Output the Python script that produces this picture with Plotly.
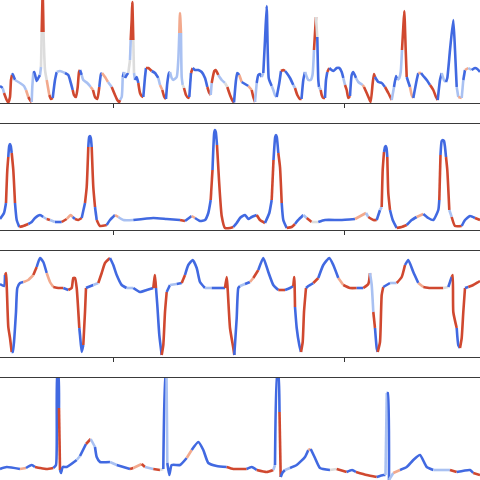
import plotly.graph_objects as go
from plotly.subplots import make_subplots

# attribution level per sample: -2 strong blue ... 0 neutral ... 2 strong red
PALETTE = {-2: "#4169e1", -1: "#a9c1f2", 0: "#dcdcdc", 1: "#f2a98d", 2: "#d0482f"}

# ---- lead 1 ----
p1_x = [0, 2.7, 4, 6.7, 8.3, 10, 11, 12, 12.7, 15, 20, 24, 26, 28.3, 30.7, 31.7, 32.3, 33.3, 34.3, 36.7,
        38.3, 40, 41, 41.7, 42.7, 43.5, 45, 46.7, 49.3, 51, 52.7, 55, 56.7, 60, 65, 68.3, 70, 72.7, 74, 76,
        77.7, 79, 80, 81.7, 83.3, 87.3, 90.7, 93, 95, 97.3, 99.3, 101, 102, 105, 108, 111.7, 115, 117.3, 119.3, 120,
        121.7, 122.7, 124, 125, 126.7, 128.3, 130, 130.7, 131.7, 132.3, 133.3, 134, 135, 136.7, 138.3, 140, 141.7, 143.3, 145, 146,
        148.3, 151.7, 155, 158.3, 160, 162.3, 164.3, 166, 167.3, 169, 170, 171.7, 173.3, 176.7, 178.3, 179.3, 180, 181, 181.7, 182.7,
        184, 186, 188.3, 189.3, 191, 192.7, 195, 198.3, 201.7, 205, 207.3, 209.3, 210.7, 211.7, 214.3, 215.7, 218.3, 221.7, 225, 227.3,
        230, 232.7, 234, 236, 237.3, 239.3, 241.7, 245, 248.3, 251.7, 253.3, 255, 256.7, 258.3, 260, 261.7, 263.3, 265, 266.7, 267.7,
        268.7, 270, 271.7, 273.3, 275, 276.7, 279.3, 281, 283.3, 285, 286.7, 290, 293.3, 295, 297.3, 300, 301.5, 303.3, 305, 308.3,
        310.7, 312.5, 314, 315.3, 316, 317.3, 318.3, 319, 320.7, 321.7, 323.3, 325, 326, 327.3, 329.3, 333.3, 336.7, 339.3, 341.7, 343.3,
        345, 346.7, 348.3, 350, 351.7, 353.3, 356, 358.3, 362.7, 364, 366.7, 369.3, 370.7, 372.7, 374, 375, 378.3, 381.7, 385, 388.3,
        391.7, 394, 396, 397.3, 399.3, 400.7, 402, 403.3, 404.3, 405.7, 406.7, 408.3, 410, 411.7, 413.3, 416.7, 418.3, 421, 423.3, 426.7,
        430, 433.3, 436, 437.7, 440, 441.7, 444, 446, 447.3, 450, 453.3, 455, 456.7, 458.3, 461.7, 463.3, 465, 468.3, 471.7, 475,
        477.3, 480]
p1_y = [17, 15, 10, 3, 0.5, 6, 23, 28, 29, 23, 20, 17, 13, 6, 2, 1, 16, 30, 31, 22,
        25, 28, 36, 71, 110, 71, 33, 23, 8, 4, 5, 23, 31, 32, 30, 28, 23, 13, 8, 6,
        16, 31, 33, 28, 23, 20, 16, 13, 6, 4, 16, 29, 30, 26, 21, 16, 8, 3, 1, 3,
        6, 26, 31, 25, 28, 30, 43, 63, 83, 101, 63, 30, 23, 26, 20, 10, 7, 6, 26, 35,
        35, 32, 30, 25, 18, 13, 6, 4, 20, 30, 31, 25, 23, 26, 43, 70, 90, 70, 26, 18,
        15, 8, 5, 6, 30, 35, 33, 33, 31, 25, 16, 10, 8, 20, 32, 33, 28, 23, 20, 16,
        8, 2, 0.5, 23, 30, 28, 21, 19, 17, 13, 6, 1, 20, 28, 29, 26, 30, 63, 97, 53,
        25, 21, 17, 13, 8, 6, 20, 32, 33, 32, 30, 25, 18, 15, 8, 4, 4, 23, 31, 23,
        23, 28, 53, 75, 86, 66, 23, 16, 13, 8, 5, 5, 23, 31, 35, 32, 35, 35, 31, 25,
        18, 13, 5, 7, 28, 31, 25, 21, 18, 16, 10, 4, 1, 20, 29, 26, 21, 20, 16, 10,
        3, 16, 27, 23, 25, 31, 53, 76, 92, 53, 26, 21, 16, 8, 5, 23, 30, 30, 27, 23,
        18, 13, 6, 3, 23, 30, 23, 21, 25, 53, 83, 53, 16, 6, 5, 23, 33, 35, 33, 35,
        34, 31]
p1_lvl = [-2, -1, 2, 2, 2, 2, 2, -2, -2, -1, -1, -1, 1, 2, 2, -1, -1, -2, -2, -2,
          -2, -1, 0, 2, 2, 0, 0, 1, 2, 2, -2, -2, -1, -1, -2, -2, -2, 2, 2, 2,
          2, 2, -2, -1, -1, -1, 1, 2, 2, 2, -2, -2, 1, 1, -1, 2, 2, 2, 2, -1,
          -1, -2, -1, -2, -2, 0, -1, 2, 2, 2, 0, -1, -2, -2, 2, 2, 2, -2, -2, 2,
          2, -2, -2, -1, 1, 2, 2, -2, -2, -2, -1, -1, -1, -1, -1, 1, 1, -1, -1, 0,
          2, 2, 2, -2, 2, -2, -2, -2, -2, -2, 2, 2, -1, 2, 2, 2, -1, -1, 0, 2,
          2, 2, -2, -2, -2, 1, -2, -2, 1, 2, 2, -1, -2, -2, -2, -1, -2, -2, -2, -2,
          -2, -2, -1, -1, -1, -2, -2, 2, 2, -2, -2, -2, -1, 2, 2, 2, -2, -2, -1, -1,
          -1, -1, 2, 2, 0, -2, -2, -1, 2, 2, 2, -2, -2, 2, -2, -2, -2, -2, -2, -1,
          2, 2, 2, -2, -2, -2, -1, -1, 1, 2, 2, 2, 2, 2, 2, -2, -2, -2, 2, 2,
          -1, -2, -2, -1, -1, -1, 2, 2, 2, 2, -2, -2, 1, 1, -2, -2, 1, -2, -2, -2,
          2, 2, 2, -2, -2, -1, -1, -2, -2, -2, -2, -2, -1, 1, -1, -2, 1, -1, -2, -2,
          -2, -2]

# ---- lead 2 ----
p2_x = [0, 4, 6, 7.3, 8.3, 9.2, 10, 10.8, 11.7, 13.3, 15, 16.7, 19.3, 23.3, 28.3, 31.7, 35, 40, 43.3, 46.7, 50, 55,
        61.7, 66.7, 70.7, 72.7, 75, 78.3, 81.7, 85, 86.7, 88.3, 89.2, 90, 90.8, 91.7, 93.3, 95, 96.7, 100, 106.7, 110, 115, 118.3,
        123.3, 133.3, 153.3, 166.7, 180, 185, 191.7, 195, 200, 205, 208.3, 210.7, 212.5, 214.2, 215, 215.8, 217, 219, 221.7, 225, 230,
        233.3, 236.7, 240, 245, 248.3, 251.7, 256.7, 260, 265, 269.3, 271.7, 273.5, 275.2, 276, 276.8, 278.3, 280, 281.7, 283.3, 286.7, 291.7, 295,
        298.3, 303.3, 306.7, 311.7, 318.3, 325, 340, 355, 366, 368.3, 373.3, 376.7, 380, 381.7, 382.7, 384, 385, 385.7, 386.5, 387.3, 388.3, 390,
        392.7, 396.7, 401.7, 406.7, 411.7, 416.7, 423.3, 428.3, 433.3, 438.3, 439.3, 440.5, 441.7, 442.8, 444, 445, 446, 447.3, 449.3, 451.7, 455, 461.7,
        465, 470, 475, 480]
p2_y = [11, 17, 27, 60, 73, 84, 86, 84, 77, 60, 27, 10, 3, 4, 6, 8, 12, 15, 13, 11, 10, 8,
        8, 11, 15, 13, 11, 10, 12, 27, 43, 83, 93, 94, 92, 83, 43, 23, 10, 4, 5, 10, 15, 13,
        10, 10, 12, 11, 10, 9, 14, 12, 9, 10, 17, 30, 60, 97, 100, 98, 85, 50, 14, 2, 2,
        3, 7, 12, 15, 11, 13, 15, 10, 7, 17, 30, 70, 93, 95, 93, 77, 63, 27, 10, 2, 3, 6,
        10, 15, 12, 8, 8, 10, 10, 11, 17, 13, 10, 10, 20, 23, 60, 78, 83, 84, 82, 73, 37, 20,
        10, 2, 3, 5, 10, 13, 16, 12, 10, 20, 30, 75, 89, 90, 89, 83, 73, 60, 20, 13, 4, 4,
        10, 14, 12, 10]
p2_lvl = [-2, -2, 2, 2, -2, -2, -2, -2, 2, 2, -2, -2, 2, 2, -2, -2, -2, -2, -1, 2, -1, -2,
          2, 1, 1, -2, 2, 2, -2, 2, 2, -2, -2, -2, -2, 2, 2, -2, 2, 2, -2, -2, 1, -1,
          -1, -2, -2, -2, 2, -2, 1, -2, -2, -2, -2, 2, -2, -2, -2, -2, 2, 2, 2, 2, 2,
          -2, -2, -2, -2, -2, -2, 2, 2, -2, -2, 2, -2, -2, -2, -2, 2, 2, -2, -2, 2, 2, -2,
          -2, -1, 2, 0, -2, -2, -2, 1, -1, 2, 2, -2, -1, 2, 2, -2, -2, -2, -2, 2, 2, -2,
          -2, 2, 2, -2, -2, 1, -2, -2, -2, -2, 2, -2, -2, -2, -2, -2, 2, 2, -1, 2, 2, -2,
          -2, -2, 2, 2]

# ---- lead 3 ----
p3_x = [0, 4, 5, 6, 6.7, 8.3, 10, 11.7, 12.7, 14, 16, 17.3, 20, 23.3, 28.3, 33.3, 36.7, 40, 43.3, 46.7,
        50, 53.3, 58.3, 63.3, 68.3, 71.7, 73.3, 75, 76.7, 79.3, 80, 81.7, 83.3, 85, 86, 88.3, 93.3, 98.3, 101.7, 105,
        110, 113.3, 116.7, 121.7, 126.7, 133.3, 140, 146.7, 153.3, 155, 156, 157.3, 159.3, 161.7, 163.3, 165, 166.7, 170, 176.7, 181.7,
        185, 188.3, 192.7, 196.7, 200, 205, 211.7, 220, 225, 226.7, 230, 233.3, 234.3, 236.7, 238.3, 240, 245, 250, 253.3, 258.3,
        263.3, 268.3, 273.3, 278.3, 285, 290, 293.3, 294.3, 295, 296.7, 299.3, 301, 302.7, 304, 306, 308.3, 313.3, 318.3, 323.3, 329.3,
        333.3, 338.3, 343.3, 350, 356.7, 363.3, 368.3, 370, 371.7, 373.3, 375, 376.7, 377.7, 380, 381.7, 383.3, 390, 396.7, 401.7, 405,
        408.3, 413.3, 418.3, 423.3, 430, 436.7, 443.3, 448.3, 451.7, 452.7, 453.3, 456.7, 458.3, 460, 461.7, 463.3, 465, 468.3, 473.3, 478.3,
        480]
p3_y = [73, 71, 82, 84, 72, 30, 19, 5, 5, 15, 45, 69, 74, 75, 77, 82, 90, 99, 95, 84,
        75, 70, 69, 69, 67, 69, 79, 79, 69, 29, 22, 5, 12, 45, 69, 70, 72, 74, 84, 94,
        99, 92, 82, 72, 69, 69, 65, 67, 69, 82, 69, 52, 22, 2, 12, 45, 65, 72, 73, 74,
        82, 92, 97, 89, 75, 69, 69, 69, 69, 80, 29, 9, 2, 39, 69, 71, 73, 75, 79, 87,
        99, 85, 72, 67, 67, 69, 71, 80, 50, 29, 12, 5, 15, 45, 69, 71, 74, 79, 92, 99,
        92, 79, 72, 69, 69, 69, 73, 84, 72, 45, 29, 9, 5, 15, 62, 70, 74, 74, 80, 92,
        97, 85, 74, 70, 69, 69, 69, 70, 80, 82, 45, 29, 12, 9, 19, 45, 69, 70, 72, 75,
        76]
p3_lvl = [-2, -2, 2, 2, 2, 2, 2, -2, -2, -2, -2, -2, -2, 1, 1, 2, -2, -2, -2, 1,
          1, 2, 2, -2, 2, 2, 2, 2, 2, -2, -2, -2, 2, 2, -2, -2, -1, 2, 2, 2,
          -2, -2, -2, -2, -1, -2, -2, -2, 2, 2, -2, -2, -2, 2, 2, 2, -2, -1, -2, 2,
          -2, -2, -2, -2, -2, -1, -2, -2, 2, 2, 2, 2, -2, -2, -2, -1, -2, 1, 2, -2,
          -2, -2, -2, 2, -2, -2, 2, 2, -2, -2, -2, 2, 2, 2, -2, -2, 2, -2, -2, -2,
          -2, 1, 2, 2, -2, 2, 2, -1, -1, 2, -2, -2, 2, 2, 2, -2, -1, 2, 2, -2,
          -2, -2, 1, 2, 2, 2, 0, -2, 2, 2, 2, -2, -2, 2, 2, 2, -2, 2, 2, 2,
          2]

# ---- lead 4 ----
p4_x = [0, 6.7, 20, 26, 31.7, 35, 40, 46.7, 53.3, 56, 57.3, 58.3, 59, 60, 61, 62.7, 66.7, 76.7, 80, 86,
        90.7, 95, 96.7, 100, 110, 116.7, 130, 133.3, 141.7, 145, 153.3, 160, 163.3, 165.7, 166.5, 167, 167.3, 169.3, 171.7, 180,
        186.7, 191.7, 198.3, 203.3, 208.3, 216.7, 226.7, 233.3, 240, 246.7, 251.7, 256.7, 266.7, 273.3, 275, 277.3, 278.3, 279.5, 280.7, 282.3,
        285, 290, 296.7, 305, 308.3, 310.7, 315, 320, 330, 336.7, 346.7, 352, 356, 366.7, 376.7, 383.3, 385.5, 386.8, 387.8, 389,
        393.3, 400, 406.7, 413.3, 420, 426.7, 433.3, 450, 456.7, 470, 473.3, 480]
p4_y = [15, 17, 15, 16, 19, 17, 16, 15, 16, 19, 110, 110, 76, 14, 11, 17, 17, 24, 28, 40,
        45, 37, 27, 22, 22, 19, 15, 16, 20, 17, 15, 14, 15, 110, 110, 60, 21, 9, 19, 19,
        26, 34, 42, 34, 21, 18, 17, 15, 15, 15, 17, 14, 12, 14, 19, 110, 110, 72, 7, 11,
        14, 16, 19, 27, 34, 35, 26, 16, 14, 15, 12, 14, 12, 9, 7, 9, 9, 91, 91, 4,
        11, 14, 17, 24, 29, 17, 14, 14, 12, 14, 11, 9]
p4_lvl = [-2, -2, 1, -2, -2, 2, 2, 2, -2, -2, -2, -2, 2, -2, -2, -2, -2, -1, -2, 2,
          -1, -2, -2, -2, -1, -2, 2, 1, 2, -1, 2, 0, -2, -2, -1, -1, -2, -2, -2, -2,
          1, -2, -2, -2, -2, -2, 2, 2, 2, -2, -2, 2, 2, -1, -2, -2, -2, 2, -2, -2,
          -1, -2, -2, -2, 1, -2, -2, -2, 0, 2, -2, -2, 2, 2, -2, -2, -1, -2, -2, -1,
          1, -2, -2, -2, -2, -2, -1, 2, -2, -2, 2, 2]

TICKS = [113, 344]

LEADS = [(p1_x, p1_y, p1_lvl), (p2_x, p2_y, p2_lvl), (p3_x, p3_y, p3_lvl), (p4_x, p4_y, p4_lvl)]
for xs, ys, lv in LEADS:
    assert len(xs) == len(ys) == len(lv), (len(xs), len(ys), len(lv))

fig = make_subplots(rows=4, cols=1)


def add_lead(fig, xs, ys, lv, row):
    # one trace per run of equal attribution level
    start = 0
    for i in range(1, len(xs)):
        if lv[i] != lv[start] or i == len(xs) - 1:
            fig.add_trace(go.Scatter(
                x=xs[start:i + 1], y=ys[start:i + 1], mode="lines",
                line=dict(color=PALETTE[lv[start]], width=2.6, shape="spline", smoothing=0.5),
                hoverinfo="skip", showlegend=False,
            ), row=row, col=1)
            start = i


for k, (xs, ys, lv) in enumerate(LEADS):
    add_lead(fig, xs, ys, lv, k + 1)

axis_common = dict(range=[0, 480], showgrid=False, zeroline=False, showline=True,
                   linecolor="#3a3a3a", linewidth=1.3, tickvals=TICKS,
                   showticklabels=False, ticks="outside", ticklen=4, tickcolor="#333333")
y_common = dict(showgrid=False, zeroline=False, showline=False, showticklabels=False)

fig.update_layout(
    width=480, height=480,
    margin=dict(l=0, r=0, t=0, b=0),
    plot_bgcolor="white", paper_bgcolor="white",
    showlegend=False,
    xaxis=dict(axis_common),
    xaxis2=dict(axis_common, mirror=True),
    xaxis3=dict(axis_common, mirror=True),
    xaxis4=dict(axis_common, side="top", ticks=""),
    yaxis=dict(y_common, domain=[0.78542, 1.0], range=[0, 103]),
    yaxis2=dict(y_common, domain=[0.52083, 0.74167], range=[0, 106]),
    yaxis3=dict(y_common, domain=[0.25625, 0.47708], range=[0, 106]),
    yaxis4=dict(y_common, domain=[0.0, 0.2125], range=[4, 106]),
)

fig.write_html("out.html", config={"displayModeBar": False},
               post_script="document.body.style.margin='0';document.body.style.overflow='hidden';")
